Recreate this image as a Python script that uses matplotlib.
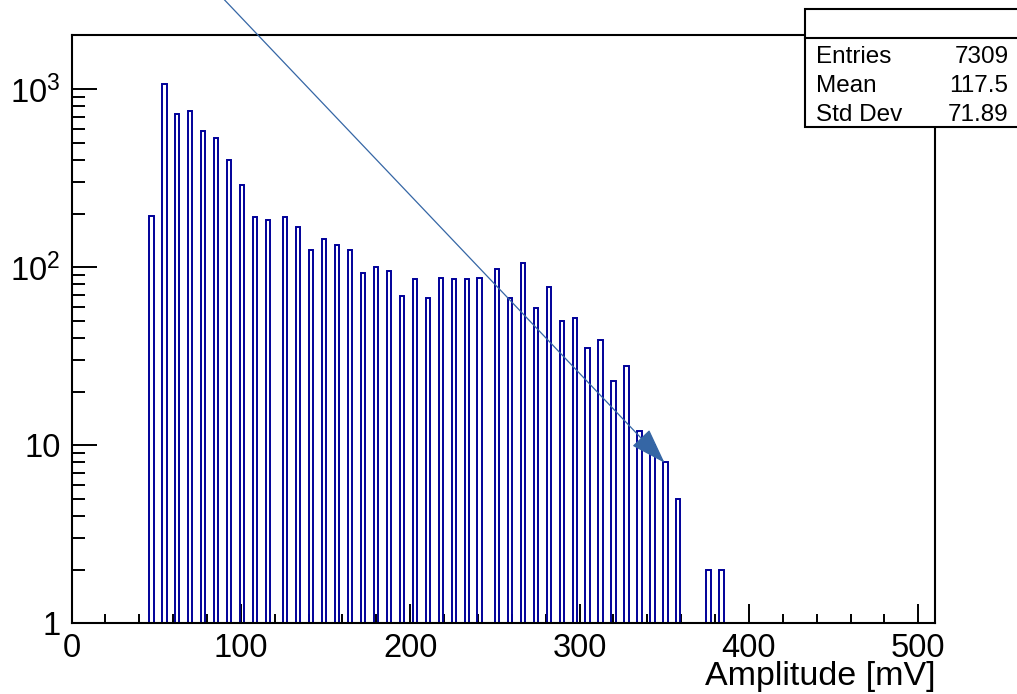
import numpy as np
import matplotlib
matplotlib.use("Agg")
import matplotlib.pyplot as plt
from matplotlib.patches import Rectangle
from matplotlib.lines import Line2D
from matplotlib.ticker import FixedLocator, FuncFormatter, MultipleLocator

plt.rcParams['font.family'] = ['Liberation Sans', 'DejaVu Sans']
plt.rcParams['mathtext.fontset'] = 'custom'
plt.rcParams['mathtext.rm'] = 'Liberation Sans'

# amplitude values (mV) that have entries, and their counts
amplitudes = [46.9, 54.7, 62.5, 70.3, 78.1, 85.9, 93.8, 101.6, 109.4, 117.2,
              125.0, 132.8, 140.6, 148.4, 156.3, 164.1, 171.9, 179.7, 187.5, 195.3,
              203.1, 210.9, 218.8, 226.6, 234.4, 242.2, 250.0, 257.8, 265.6, 273.4,
              281.3, 289.1, 296.9, 304.7, 312.5, 320.3, 328.1, 335.9, 343.8, 351.6,
              359.4, 375.0, 382.8]
counts = [194, 1063, 727, 755, 583, 529, 401, 289, 191, 183,
          191, 169, 125, 144, 133, 125, 93, 100, 95, 69,
          86, 67, 87, 86, 86, 87, 98, 67, 106, 59,
          77, 50, 52, 35, 39, 23, 28, 12, 10, 8,
          5, 2, 2]

stats_names = ["Entries", "Mean", "Std Dev"]
stats_values = ["7309", "117.5", "71.89"]

W, H = 1017, 694
fig = plt.figure(figsize=(W / 100, H / 100), dpi=100)
ax = fig.add_axes([71.5 / W, 1 - 623.3 / H, (935.3 - 71.5) / W, (623.3 - 34.7) / H])

ax.hist(amplitudes, bins=200, range=(0, 510), weights=counts,
        histtype='step', color='#000099', linewidth=1.4)

ax.set_yscale('log', nonpositive='clip')
ax.set_xlim(0, 510)
ax.set_ylim(1, 2020)

ax.xaxis.set_major_locator(MultipleLocator(100))
ax.xaxis.set_minor_locator(MultipleLocator(20))
ax.yaxis.set_major_locator(FixedLocator([1, 10, 100, 1000]))
ax.yaxis.set_minor_locator(FixedLocator([m * 10 ** d for d in range(4) for m in range(2, 10)]))


def ylab(v, pos):
    if v < 5:
        return "1"
    if v < 50:
        return "10"
    return r"$\mathregular{10^{%d}}$" % int(round(np.log10(v)))


ax.yaxis.set_major_formatter(FuncFormatter(ylab))

ax.tick_params(axis='x', which='major', direction='in', length=13.7, width=1.4, labelsize=23.5, pad=7)
ax.tick_params(axis='x', which='minor', direction='in', length=6.8, width=1.4)
ax.tick_params(axis='y', which='major', direction='in', length=18, width=1.4, labelsize=23.5, pad=8)
ax.tick_params(axis='y', which='minor', direction='in', length=9.4, width=1.4)
for s in ax.spines.values():
    s.set_linewidth(1.5)

ax.set_xlabel("Amplitude [mV]", fontsize=24.5, loc='right', labelpad=-2)

# stats box
box = Rectangle((805 / W, 1 - 127.3 / H), 0.3, (127.3 - 9.3) / H, transform=fig.transFigure,
                facecolor='white', edgecolor='black', linewidth=1.5, zorder=10)
fig.add_artist(box)
fig.add_artist(Line2D([805 / W, 1.0], [1 - 37.7 / H, 1 - 37.7 / H], transform=fig.transFigure,
                      color='black', linewidth=1.5, zorder=11))
for i, (name, val) in enumerate(zip(stats_names, stats_values)):
    yb = 1 - (63.3 + 28.7 * i) / H
    fig.text(816.5 / W, yb, name, fontsize=17.5, va='baseline', ha='left', zorder=12)
    fig.text(1008.5 / W, yb, val, fontsize=17.5, va='baseline', ha='right', zorder=12)

# arrow drawn over the plot
ax.annotate('', xy=(664.5, H - 462.7), xycoords='figure pixels',
            xytext=(205.6, H + 20), textcoords='figure pixels',
            arrowprops=dict(arrowstyle='-|>,head_length=22.7,head_width=7.6',
                            mutation_scale=1, color='#3566a5', lw=0.9,
                            shrinkA=0, shrinkB=0))

fig.savefig("out.png", dpi=100)
